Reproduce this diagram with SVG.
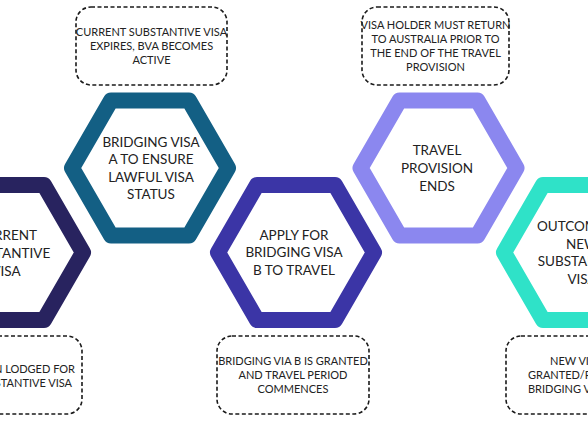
<svg xmlns="http://www.w3.org/2000/svg" width="588" height="422" viewBox="0 0 588 422">
<defs>
<style>
.hex{fill:#fff;stroke-width:16;stroke-linejoin:round}
.ht{font-family:Lato,"Liberation Sans",sans-serif;font-size:13.5px;fill:#222;text-anchor:middle}
.box{fill:#fff;stroke:#1a1a1a;stroke-width:1.6;stroke-dasharray:4 2.5}
.bt{font-family:Lato,"Liberation Sans",sans-serif;font-size:11px;fill:#222;text-anchor:middle}
</style>
<polygon id="hx" points="78,0 39,67.55 -39,67.55 -78,0 -39,-67.55 39,-67.55"/>
</defs>
<rect width="588" height="422" fill="#fff"/>
<g id="connectors"></g>
<g id="node1">
<use href="#hx" class="hex" transform="translate(5,252.5)" stroke="#28235f"/>
<text class="ht" x="6" y="240">CURRENT</text>
<text class="ht" x="6" y="258">SUBSTANTIVE</text>
<text class="ht" x="6" y="276">VISA</text>
</g>
<g id="node2">
<use href="#hx" class="hex" transform="translate(150,168)" stroke="#135f84"/>
<text class="ht" x="151" y="146.6">BRIDGING VISA</text>
<text class="ht" x="151" y="164.2">A TO ENSURE</text>
<text class="ht" x="151" y="181.8">LAWFUL VISA</text>
<text class="ht" x="151" y="199.4">STATUS</text>
</g>
<g id="node3">
<use href="#hx" class="hex" transform="translate(296,252.5)" stroke="#3b35a6"/>
<text class="ht" x="294" y="239.8">APPLY FOR</text>
<text class="ht" x="294" y="257.4">BRIDGING VISA</text>
<text class="ht" x="294" y="275">B TO TRAVEL</text>
</g>
<g id="node4">
<use href="#hx" class="hex" transform="translate(438.5,168)" stroke="#8b87ef"/>
<text class="ht" x="437" y="155.3">TRAVEL</text>
<text class="ht" x="437" y="172.9">PROVISION</text>
<text class="ht" x="437" y="190.5">ENDS</text>
</g>
<g id="node5">
<use href="#hx" class="hex" transform="translate(582,252.5)" stroke="#2fe2c8"/>
<text class="ht" x="582" y="231">OUTCOME OF</text>
<text class="ht" x="582" y="248.6">NEW</text>
<text class="ht" x="582" y="266.2">SUBSTANTIVE</text>
<text class="ht" x="582" y="283.8">VISA</text>
</g>
<g id="note1">
<rect class="box" x="76" y="7" width="151" height="78" rx="15"/>
<text class="bt" x="151.5" y="36">CURRENT SUBSTANTIVE VISA</text>
<text class="bt" x="151.5" y="50">EXPIRES, BVA BECOMES</text>
<text class="bt" x="151.5" y="64">ACTIVE</text>
</g>
<g id="note2">
<rect class="box" x="362" y="7" width="147" height="78" rx="15"/>
<text class="bt" x="435.5" y="28.5">VISA HOLDER MUST RETURN</text>
<text class="bt" x="435.5" y="42.5">TO AUSTRALIA PRIOR TO</text>
<text class="bt" x="435.5" y="56.5">THE END OF THE TRAVEL</text>
<text class="bt" x="435.5" y="70.5">PROVISION</text>
</g>
<g id="note3">
<rect class="box" x="-69" y="336" width="151" height="78" rx="15"/>
<text class="bt" x="75" y="372.5" style="text-anchor:end">APPLICATION LODGED FOR</text>
<text class="bt" x="72" y="386.5" style="text-anchor:end">NEW SUBSTANTIVE VISA</text>
</g>
<g id="note4">
<rect class="box" x="217" y="336" width="152" height="78" rx="15"/>
<text class="bt" x="293" y="365">BRIDGING VIA B IS GRANTED</text>
<text class="bt" x="293" y="379">AND TRAVEL PERIOD</text>
<text class="bt" x="293" y="393">COMMENCES</text>
</g>
<g id="note5">
<rect class="box" x="506" y="336" width="152" height="78" rx="15"/>
<text class="bt" x="550" y="365" style="text-anchor:start">NEW VISA IS</text>
<text class="bt" x="528" y="379" style="text-anchor:start">GRANTED/REFUSED,</text>
<text class="bt" x="528" y="393" style="text-anchor:start">BRIDGING VISA ENDS</text>
</g>
</svg>
